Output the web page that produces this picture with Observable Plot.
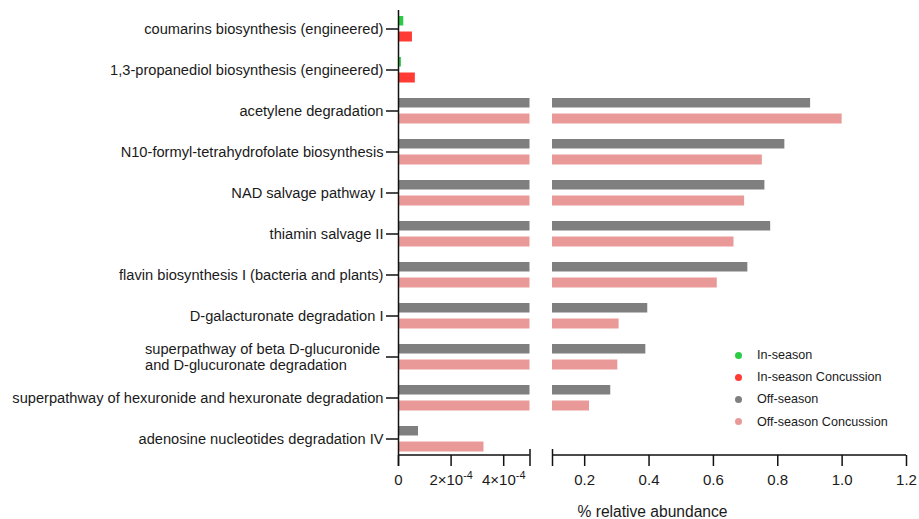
<!DOCTYPE html>
<html>
<head>
<meta charset="utf-8">
<script src="https://cdn.jsdelivr.net/npm/d3@7"></script>
<script src="https://cdn.jsdelivr.net/npm/@observablehq/plot@0.6"></script>
<style>
  html, body { margin: 0; padding: 0; background: #fff; }
  #wrap { position: relative; width: 919px; height: 519px; font-family: "Liberation Sans", Arial, sans-serif; }
  #legend { position: absolute; left: 735px; top: 344px; font-size: 12.6px; color: #1a1a1a; }
  #legend .row { display: flex; align-items: center; height: 22.2px; }
  #legend .dot { width: 7px; height: 7px; border-radius: 50%; margin-right: 15px; }
</style>
</head>
<body>
<div id="wrap"></div>
<script>
// ---- data ----
const categories = [
  "coumarins biosynthesis (engineered)",
  "1,3-propanediol biosynthesis (engineered)",
  "acetylene degradation",
  "N10-formyl-tetrahydrofolate biosynthesis",
  "NAD salvage pathway I",
  "thiamin salvage II",
  "flavin biosynthesis I (bacteria and plants)",
  "D-galacturonate degradation I",
  "superpathway of beta D-glucuronide\nand D-glucuronate degradation",
  "superpathway of hexuronide and hexuronate degradation",
  "adenosine nucleotides degradation IV"
];
const seriesNames = ["In-season", "In-season Concussion", "Off-season", "Off-season Concussion"];
const seriesColors = ["#2ccb45", "#ff3b33", "#7f7f7f", "#e99a98"];
const inSeason            = [2.0e-5, 1.1e-5, null, null, null, null, null, null, null, null, null];
const inSeasonConcussion  = [5.3e-5, 6.4e-5, null, null, null, null, null, null, null, null, null];
const offSeason           = [null, null, 0.902, 0.822, 0.760, 0.778, 0.707, 0.396, 0.390, 0.281, 7.6e-5];
const offSeasonConcussion = [null, null, 1.000, 0.752, 0.697, 0.664, 0.612, 0.307, 0.303, 0.215, 3.25e-4];
const leftTicks = [0, 2e-4, 4e-4];
const leftTickLabels = ["0", "2×10^-4", "4×10^-4"];
const rightTicks = [0.2, 0.4, 0.6, 0.8, 1.0, 1.2];
const rightTickLabels = ["0.2", "0.4", "0.6", "0.8", "1.0", "1.2"];
const breakLow = 5e-4;   // end of left panel
const breakHigh = 0.1;   // start of right panel
const xMax = 1.2;
const xLabel = "% relative abundance";

// ---- layout ----
const W = 919, H = 519, MT = 10, MB = 64, ML = 398, MR = 13;
const XB1 = 529.5, XB2 = 552;
const frameH = H - MT - MB;

// ---- build segments ----
const seriesValues = [inSeason, inSeasonConcussion, offSeason, offSeasonConcussion];
const slotOf = [0, 1, 0, 1];
const segs = [];
seriesValues.forEach((vals, s) => {
  vals.forEach((v, i) => {
    if (v == null) return;
    segs.push({category: categories[i], series: seriesNames[s], slot: slotOf[s], x1: 0, x2: Math.min(v, breakLow)});
    if (v > breakHigh) segs.push({category: categories[i], series: seriesNames[s], slot: slotOf[s], x1: breakHigh, x2: v});
  });
});
const axisSegments = [{x1: 0, x2: breakLow}, {x1: breakHigh, x2: xMax}];
const allTicks = [...leftTicks, ...rightTicks];
const allTickLabels = [...leftTickLabels, ...rightTickLabels];
const multiLine = categories.filter(c => c.includes("\n"));

const chart = Plot.plot({
  width: W, height: H,
  marginTop: MT, marginBottom: MB, marginLeft: ML, marginRight: MR,
  style: {fontFamily: "Liberation Sans, Arial, sans-serif", color: "#1a1a1a", background: "#fff"},
  x: {type: "linear", domain: [0, breakLow, breakHigh, xMax], range: [ML, XB1, XB2, W - MR]},
  y: {domain: categories, padding: 0, insetTop: -2.5, insetBottom: -3.5},
  color: {domain: seriesNames, range: seriesColors},
  marks: [
    Plot.barX(segs.filter(d => d.slot === 0), {y: "category", x1: "x1", x2: "x2", fill: "series", insetTop: 8, insetBottom: 23.5}),
    Plot.barX(segs.filter(d => d.slot === 1), {y: "category", x1: "x1", x2: "x2", fill: "series", insetTop: 23.5, insetBottom: 7.5}),
    // x axis line segments (broken axis)
    Plot.barX(axisSegments, {x1: "x1", x2: "x2", fill: "#111", insetTop: frameH - 0.75, insetBottom: -0.75}),
    // y axis line
    Plot.ruleX([0], {stroke: "#111", strokeWidth: 1.5, insetBottom: -11}),
    // break end caps
    Plot.ruleX([breakLow, breakHigh], {stroke: "#111", strokeWidth: 1.5, insetTop: frameH - 6, insetBottom: -11}),
    Plot.axisX({
      ticks: allTicks,
      tickFormat: d => allTickLabels[allTicks.indexOf(d)],
      tickSize: 11, tickPadding: 7.5, strokeWidth: 1.5, stroke: "#111",
      fontSize: 15, fill: "#1a1a1a",
      label: null
    }),
    Plot.axisX({
      ticks: [], tickSize: 0, fontSize: 15.6, fill: "#1a1a1a",
      label: xLabel, labelAnchor: "center", labelArrow: "none", labelOffset: 61
    }),
    Plot.axisY({
      tickSize: 12, tickPadding: 3, strokeWidth: 1.5, stroke: "#111",
      fontSize: 14.65, fill: "#1a1a1a", label: null,
      tickFormat: d => d.includes("\n") ? "" : d
    }),
    Plot.text(multiLine, {y: d => d, text: d => d, frameAnchor: "left", textAnchor: "start", dx: -253.5, lineAnchor: "middle", lineHeight: 1.12, fontSize: 14.65, fill: "#1a1a1a"})
  ]
});

// render exponent labels (e.g. "2×10^-4") with a raised superscript tspan
chart.querySelectorAll("text").forEach(t => {
  const s = t.textContent;
  const m = s.match(/^(.*)\^(.*)$/);
  if (m) {
    t.textContent = "";
    const ns = "http://www.w3.org/2000/svg";
    const a = document.createElementNS(ns, "tspan");
    a.textContent = m[1];
    const b = document.createElementNS(ns, "tspan");
    b.textContent = m[2];
    b.setAttribute("font-size", "0.72em");
    b.setAttribute("dy", "-0.5em");
    t.appendChild(a); t.appendChild(b);
  }
});

const wrap = document.getElementById("wrap");
wrap.appendChild(chart);

const legend = document.createElement("div");
legend.id = "legend";
seriesNames.forEach((name, i) => {
  const row = document.createElement("div");
  row.className = "row";
  const dot = document.createElement("span");
  dot.className = "dot";
  dot.style.background = seriesColors[i];
  const txt = document.createElement("span");
  txt.textContent = name;
  row.appendChild(dot); row.appendChild(txt);
  legend.appendChild(row);
});
wrap.appendChild(legend);
</script>
</body>
</html>
